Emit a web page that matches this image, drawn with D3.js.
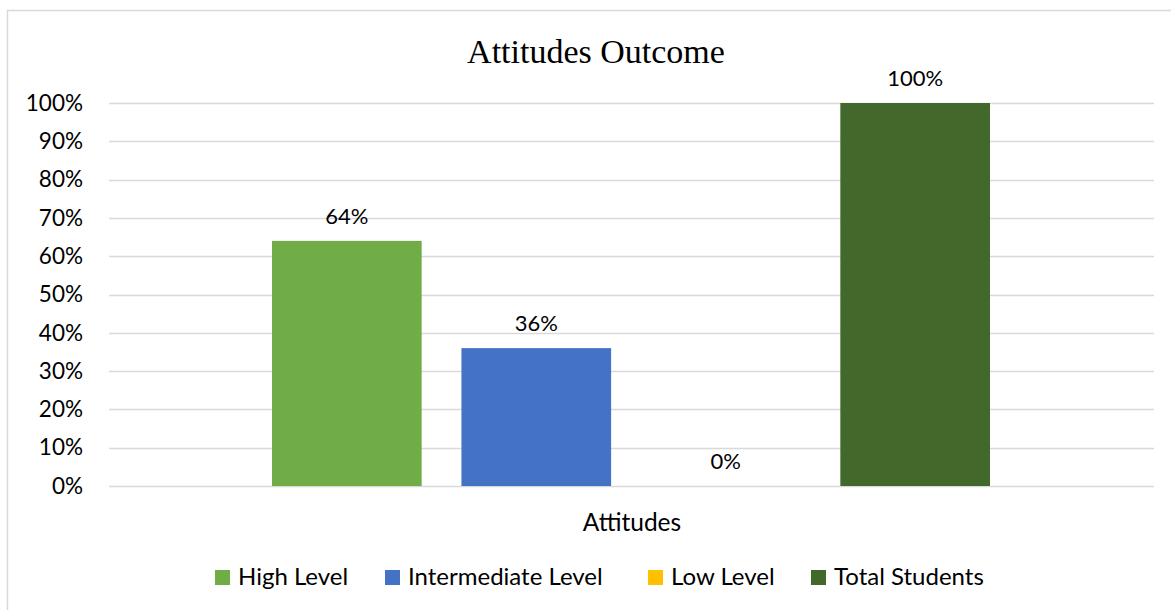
<!DOCTYPE html>
<html>
<head>
<meta charset="utf-8">
<script src="https://cdn.jsdelivr.net/npm/d3@7"></script>
<style>
body{margin:0;background:#fff;}
text{font-family:Lato,"Open Sans",sans-serif;fill:#000;}
</style>
</head>
<body>
<div id="chart"></div>
<script>
var width = 1171, height = 610,
	margin = {top:103, left:109, right:17, bottom:124};

var category = ["Attitudes"];
var series = ["High Level","Intermediate Level","Low Level","Total Students"];
var values = [0.64, 0.36, 0, 1.00];
var colors = ["#70ad47","#4472c4","#ffc000","#43682b"];
var yticks = [0,0.1,0.2,0.3,0.4,0.5,0.6,0.7,0.8,0.9,1.0];

var svg = d3.select("#chart").append("svg")
	.attr("width",width)
	.attr("height",height);

// chart frame
svg.append("rect").attr("x",7.5).attr("y",10.5).attr("width",width).attr("height",height)
	.attr("fill","none").attr("stroke","#d9d9d9").attr("stroke-width",1.5);

var pw = width-margin.left-margin.right,
	ph = height-margin.top-margin.bottom;

var Y = d3.scaleLinear().domain([0,1]).range([margin.top+ph, margin.top]);
var X0 = d3.scaleBand().domain(category).range([margin.left, margin.left+pw]);
var X1 = d3.scaleBand().domain(series).range([272, 990]).paddingInner(0.21);

// gridlines
svg.append("g").selectAll("line").data(yticks).enter().append("line")
	.attr("x1",margin.left).attr("x2",margin.left+pw)
	.attr("y1",function(d){return Math.round(Y(d))+0.5})
	.attr("y2",function(d){return Math.round(Y(d))+0.5})
	.attr("stroke","#d9d9d9").attr("stroke-width",1.3);

// y axis labels
var yAxis = d3.axisLeft(Y).tickValues(yticks).tickFormat(d3.format(".0%")).tickSize(0).tickPadding(26);
var ga = svg.append("g").attr("transform","translate("+margin.left+",0)").call(yAxis);
ga.select(".domain").remove();
ga.selectAll("text").style("font-family","Lato, sans-serif").style("font-size","22.5px").attr("fill","#000");

// bars
svg.append("g").selectAll("rect").data(values).enter().append("rect")
	.attr("x",function(d,i){return X1(series[i])})
	.attr("width",X1.bandwidth())
	.attr("y",function(d){return Y(d)})
	.attr("height",function(d){return Y(0)-Y(d)})
	.attr("fill",function(d,i){return colors[i]});

// data labels
svg.append("g").selectAll("text").data(values).enter().append("text")
	.attr("x",function(d,i){return X1(series[i])+X1.bandwidth()/2})
	.attr("y",function(d){return Y(d)-17})
	.attr("text-anchor","middle")
	.style("font-size","22px")
	.text(function(d){return d3.format(".0%")(d)});

// title
svg.append("text").attr("x",596).attr("y",63).attr("text-anchor","middle")
	.style("font-family","'Liberation Serif', serif").style("font-size","34px")
	.text("Attitudes Outcome");

// category label
svg.append("text").attr("x",X0(category[0])+X0.bandwidth()/2+0.5).attr("y",531).attr("text-anchor","middle")
	.style("font-size","24.5px").text(category[0]);

// legend
var lx = [215,385,648,811];
var lg = svg.append("g").selectAll("g").data(series).enter().append("g")
	.attr("transform",function(d,i){return "translate("+lx[i]+",570)"});
lg.append("rect").attr("width",15).attr("height",15).attr("fill",function(d,i){return colors[i]});
lg.append("text").attr("x",23).attr("y",15).style("font-size","24px").text(function(d){return d});
</script>
</body>
</html>
